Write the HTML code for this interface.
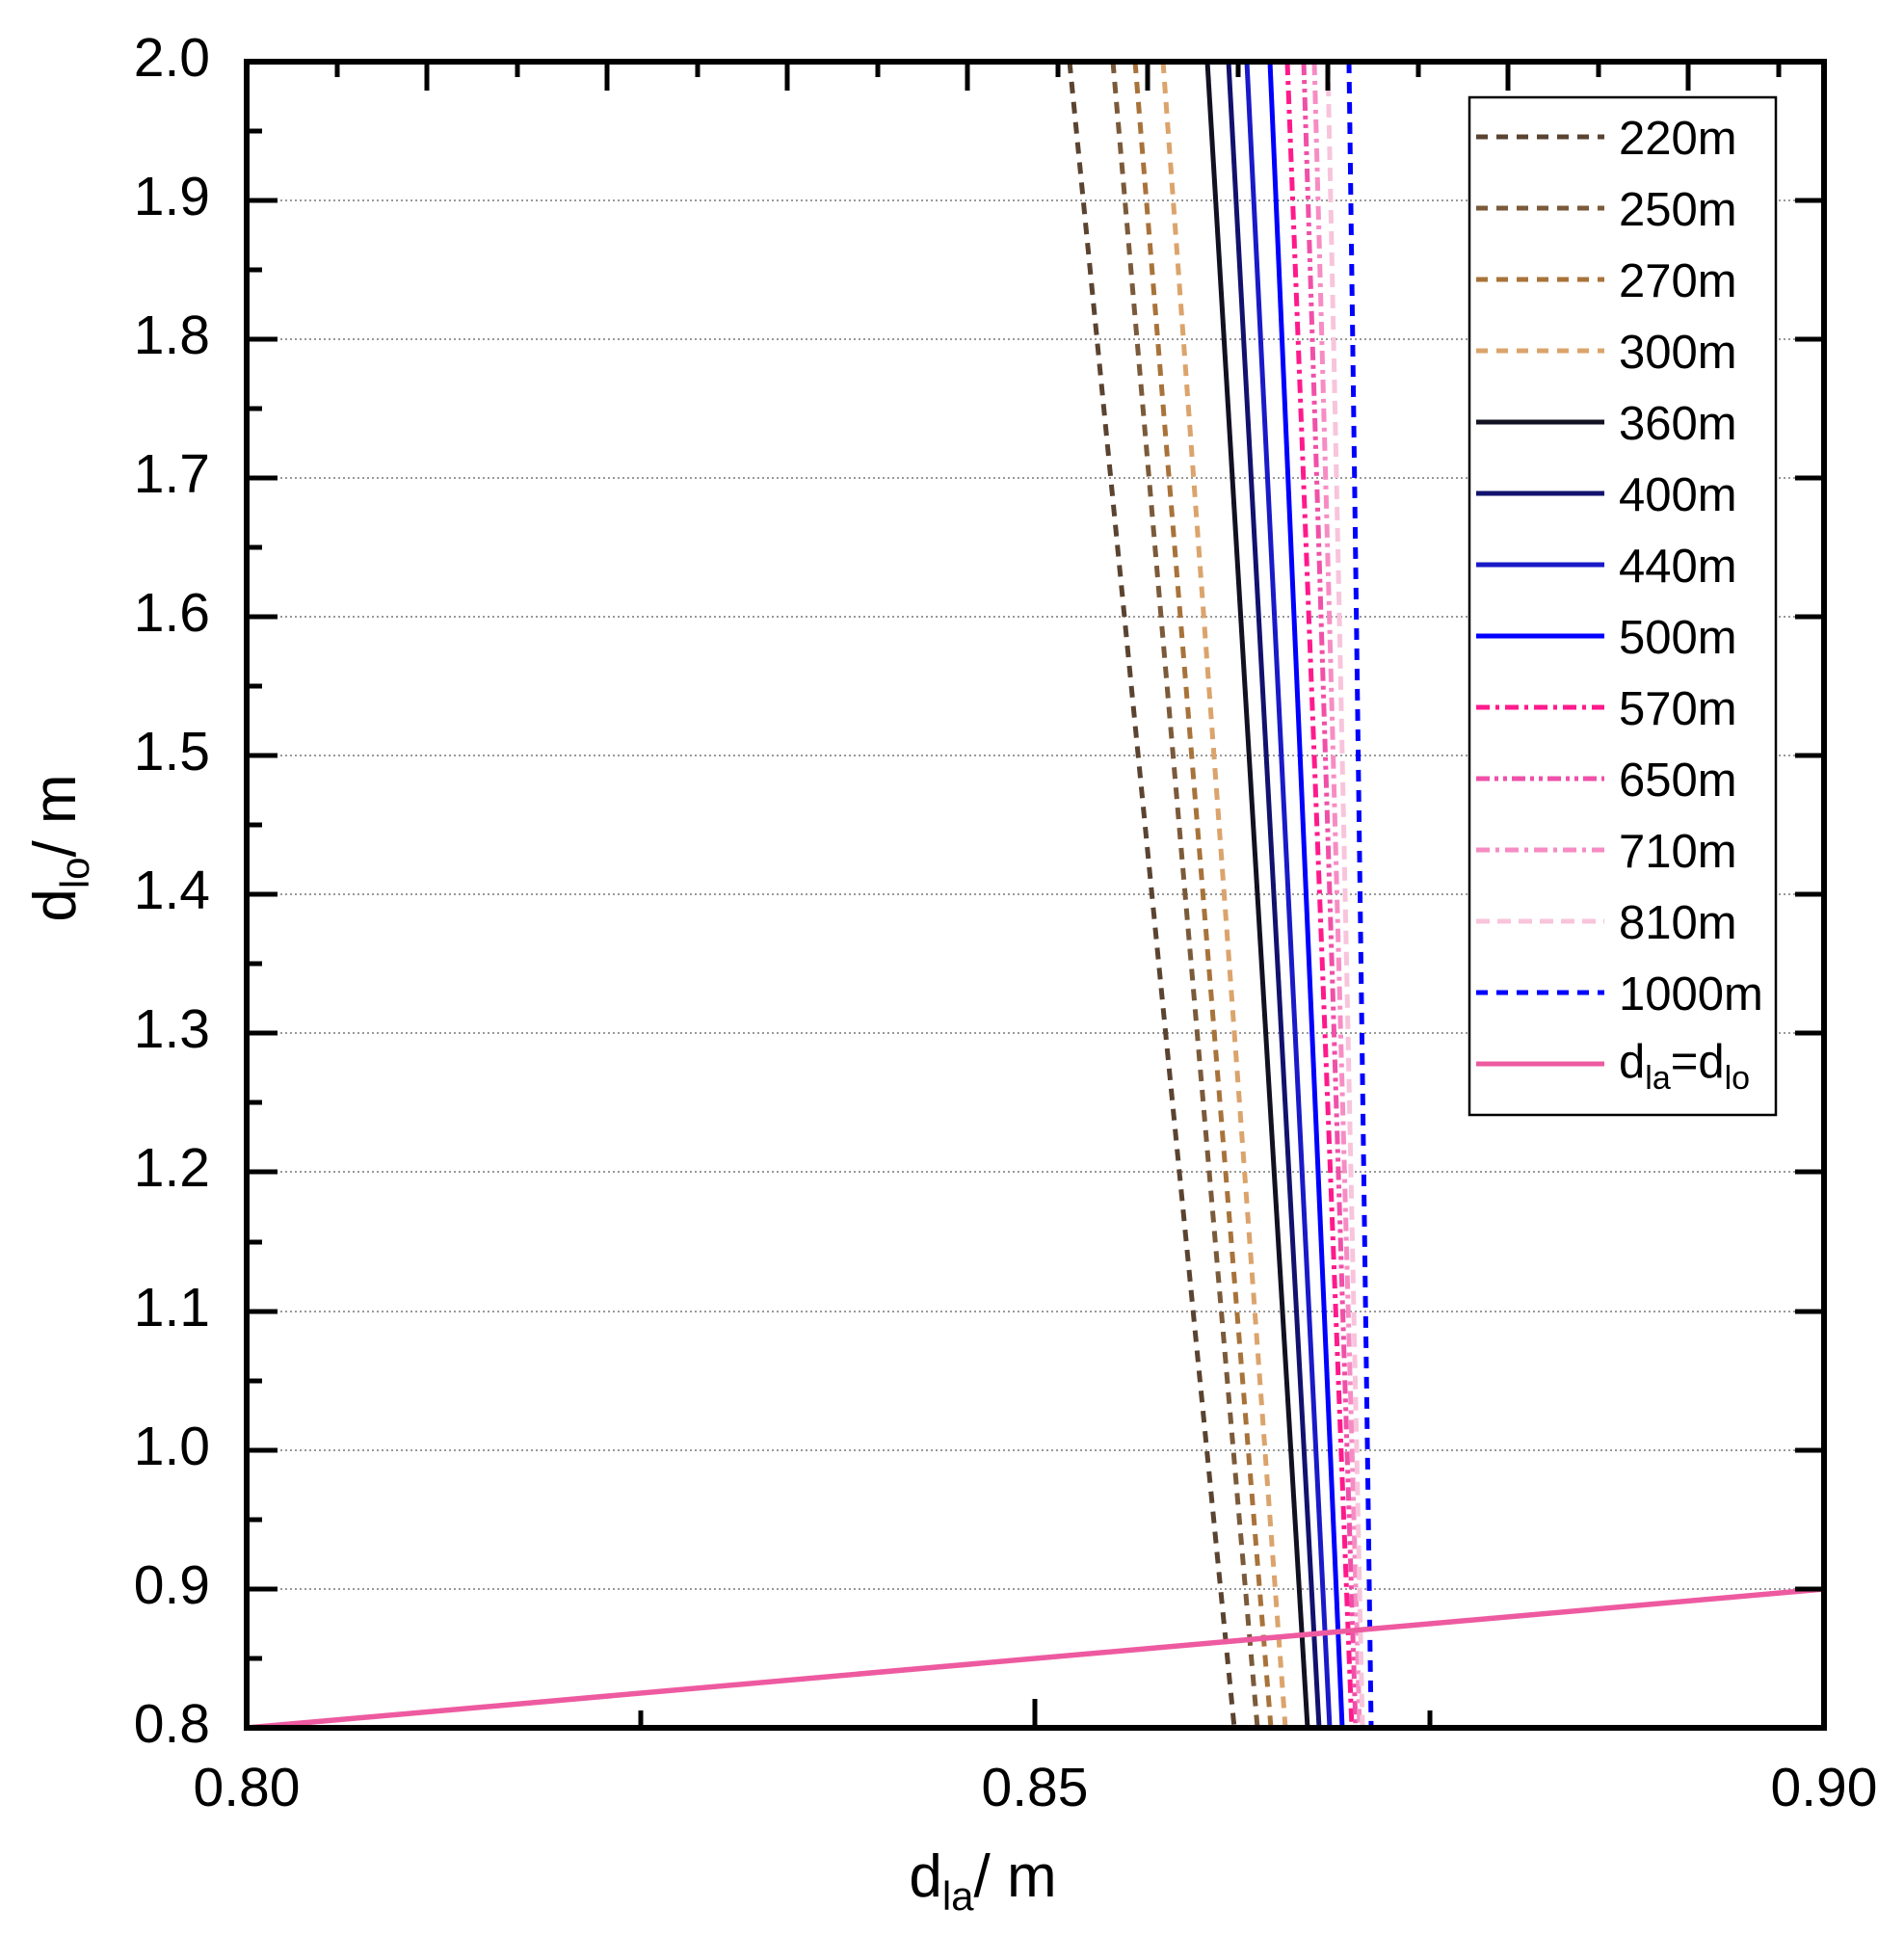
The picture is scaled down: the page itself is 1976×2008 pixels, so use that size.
<!DOCTYPE html>
<html><head><meta charset="utf-8"><style>
html,body{margin:0;padding:0;background:#fff;}
svg{display:block;font-family:"Liberation Sans",Arial,sans-serif;}
</style></head><body>
<svg width="1976" height="2008" viewBox="0 0 1976 2008" xmlns="http://www.w3.org/2000/svg">
<rect width="1976" height="2008" fill="#fff"/>
<g stroke="#999" stroke-width="2" stroke-dasharray="2,3">
<line x1="256" x2="1893" y1="1649" y2="1649"/>
<line x1="256" x2="1893" y1="1505" y2="1505"/>
<line x1="256" x2="1893" y1="1361" y2="1361"/>
<line x1="256" x2="1893" y1="1216" y2="1216"/>
<line x1="256" x2="1893" y1="1072" y2="1072"/>
<line x1="256" x2="1893" y1="928" y2="928"/>
<line x1="256" x2="1893" y1="784" y2="784"/>
<line x1="256" x2="1893" y1="640" y2="640"/>
<line x1="256" x2="1893" y1="496" y2="496"/>
<line x1="256" x2="1893" y1="352" y2="352"/>
<line x1="256" x2="1893" y1="208" y2="208"/>
</g>
<g fill="none" stroke-width="5">
<line x1="1110" y1="64" x2="1281" y2="1793" stroke="#5a4330" stroke-dasharray="12,9"/>
<line x1="1155" y1="64" x2="1305" y2="1793" stroke="#7a5a3a" stroke-dasharray="12,9"/>
<line x1="1178" y1="64" x2="1319" y2="1793" stroke="#a8733a" stroke-dasharray="12,9"/>
<line x1="1207" y1="64" x2="1334" y2="1793" stroke="#dba46c" stroke-dasharray="12,9"/>
<line x1="1253" y1="64" x2="1357" y2="1793" stroke="#111122"/>
<line x1="1275" y1="64" x2="1369" y2="1793" stroke="#12126e"/>
<line x1="1294" y1="64" x2="1380" y2="1793" stroke="#1a1ac8"/>
<line x1="1318" y1="64" x2="1393" y2="1793" stroke="#0000ff"/>
<line x1="1336" y1="64" x2="1403" y2="1793" stroke="#ff1a8c" stroke-dasharray="14,6,4,6"/>
<line x1="1353" y1="64" x2="1407" y2="1793" stroke="#f050a8" stroke-dasharray="14,5,4,5,4,5"/>
<line x1="1364" y1="64" x2="1411" y2="1793" stroke="#f78cc4" stroke-dasharray="14,6,4,6"/>
<line x1="1378" y1="64" x2="1414" y2="1793" stroke="#f8c4dc" stroke-dasharray="14,8"/>
<line x1="1400" y1="64" x2="1423" y2="1793" stroke="#0000ff" stroke-dasharray="12,9"/>
<line x1="256" y1="1793" x2="1893" y2="1649" stroke="#ee5aa0" stroke-width="5.5"/>
</g>
<g stroke="#000" stroke-width="5">
<path d="M256 208h32M256 352h32M256 496h32M256 640h32M256 784h32M256 928h32M256 1072h32M256 1216h32M256 1361h32M256 1505h32M256 1649h32
M256 136h16M256 280h16M256 424h16M256 568h16M256 712h16M256 856h16M256 1000h16M256 1144h16M256 1289h16M256 1433h16M256 1577h16M256 1721h16"/>
<path d="M1893 208h-30M1893 352h-30M1893 496h-30M1893 640h-30M1893 784h-30M1893 928h-30M1893 1072h-30M1893 1216h-30M1893 1361h-30M1893 1505h-30M1893 1649h-30"/>
<path d="M1074 1793v-30M665 1793v-18M1484 1793v-18"/>
<path d="M443 64v30M630 64v30M817 64v30M1004 64v30M1191 64v30M1378 64v30M1565 64v30M1752 64v30
M350 64v16M537 64v16M724 64v16M911 64v16M1098 64v16M1285 64v16M1472 64v16M1659 64v16M1846 64v16"/>
</g>
<rect x="256" y="64" width="1637" height="1729" fill="none" stroke="#000" stroke-width="6"/>
<rect x="1525" y="101" width="318" height="1056" fill="#fff" stroke="#000" stroke-width="2.5"/>
<g stroke-width="5" fill="none">
<line x1="1532" x2="1665" y1="142" y2="142" stroke="#5a4330" stroke-dasharray="12,9"/>
<line x1="1532" x2="1665" y1="216" y2="216" stroke="#7a5a3a" stroke-dasharray="12,9"/>
<line x1="1532" x2="1665" y1="290" y2="290" stroke="#a8733a" stroke-dasharray="12,9"/>
<line x1="1532" x2="1665" y1="364" y2="364" stroke="#dba46c" stroke-dasharray="12,9"/>
<line x1="1532" x2="1665" y1="438" y2="438" stroke="#111122"/>
<line x1="1532" x2="1665" y1="512" y2="512" stroke="#12126e"/>
<line x1="1532" x2="1665" y1="586" y2="586" stroke="#1a1ac8"/>
<line x1="1532" x2="1665" y1="660" y2="660" stroke="#0000ff"/>
<line x1="1532" x2="1665" y1="734" y2="734" stroke="#ff1a8c" stroke-dasharray="14,6,4,6"/>
<line x1="1532" x2="1665" y1="808" y2="808" stroke="#f050a8" stroke-dasharray="14,5,4,5,4,5"/>
<line x1="1532" x2="1665" y1="882" y2="882" stroke="#f78cc4" stroke-dasharray="14,6,4,6"/>
<line x1="1532" x2="1665" y1="956" y2="956" stroke="#f8c4dc" stroke-dasharray="14,8"/>
<line x1="1532" x2="1665" y1="1030" y2="1030" stroke="#0000ff" stroke-dasharray="12,9"/>
<line x1="1532" x2="1665" y1="1104" y2="1104" stroke="#ee5aa0"/>
</g>
<g font-size="49" fill="#000">
<text x="1680" y="160">220m</text>
<text x="1680" y="234">250m</text>
<text x="1680" y="308">270m</text>
<text x="1680" y="382">300m</text>
<text x="1680" y="456">360m</text>
<text x="1680" y="530">400m</text>
<text x="1680" y="604">440m</text>
<text x="1680" y="678">500m</text>
<text x="1680" y="752">570m</text>
<text x="1680" y="826">650m</text>
<text x="1680" y="900">710m</text>
<text x="1680" y="974">810m</text>
<text x="1680" y="1048">1000m</text>
<text x="1680" y="1118">d<tspan font-size="34" dy="12">la</tspan><tspan dy="-12">=d</tspan><tspan font-size="34" dy="12">lo</tspan></text>
</g>
<g font-size="57" fill="#000" text-anchor="end">
<text x="218" y="79">2.0</text>
<text x="218" y="223">1.9</text>
<text x="218" y="367">1.8</text>
<text x="218" y="511">1.7</text>
<text x="218" y="655">1.6</text>
<text x="218" y="799">1.5</text>
<text x="218" y="943">1.4</text>
<text x="218" y="1087">1.3</text>
<text x="218" y="1231">1.2</text>
<text x="218" y="1376">1.1</text>
<text x="218" y="1520">1.0</text>
<text x="218" y="1664">0.9</text>
<text x="218" y="1808">0.8</text>
</g>
<g font-size="57" fill="#000" text-anchor="middle">
<text x="256" y="1874">0.80</text>
<text x="1074" y="1874">0.85</text>
<text x="1893" y="1874">0.90</text>
</g>
<text x="1020" y="1968" font-size="62" text-anchor="middle">d<tspan font-size="42" dy="14">la</tspan><tspan dy="-14">/ m</tspan></text>
<text transform="translate(78,880) rotate(-90)" font-size="62" text-anchor="middle">d<tspan font-size="42" dy="14">lo</tspan><tspan dy="-14">/ m</tspan></text>
</svg>
</body></html>
